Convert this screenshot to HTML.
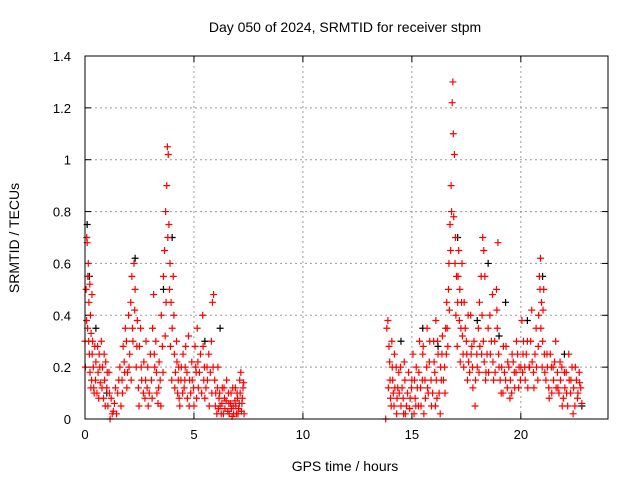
<!DOCTYPE html>
<html><head><meta charset="utf-8"><style>
body{margin:0;background:#fff}
svg{display:block;font-family:"Liberation Sans",sans-serif}
</style></head><body>
<svg id="chart" width="640" height="480" xmlns="http://www.w3.org/2000/svg">
<rect width="640" height="480" fill="#fff"/>
<text x="345" y="32" font-size="14" text-anchor="middle">Day 050 of 2024, SRMTID for receiver stpm</text>
<text x="345" y="471" font-size="14" text-anchor="middle">GPS time / hours</text>
<text transform="translate(19,238) rotate(-90)" font-size="14" text-anchor="middle">SRMTID / TECUs</text>
<g id="grid"></g><g id="ticks"></g><g id="marks"></g>
<rect x="85" y="56" width="523" height="363" fill="none" stroke="#000" stroke-width="1"/>
</svg>
<script>
const xTicks=[0,5,10,15,20];
const yTicks=[0,0.2,0.4,0.6,0.8,1,1.2,1.4];
const yTickLabels=["0","0.2","0.4","0.6","0.8","1","1.2","1.4"];
const redTimes=[0,0.05,0.08,0.1,0.12,0.15,0.18,0.2,0.22,0.25,0.28,0.3,0.32,0.35,0.38,0.4,0.45,0.5,0.55,0.6,0.65,0.7,0.75,0.8,0.85,0.9,0.95,1.0,1.05,1.1,1.15,1.2,1.3,1.4,1.5,1.6,1.7,1.75,1.8,1.85,1.9,1.95,2.0,2.05,2.1,2.15,2.2,2.25,2.3,2.35,2.4,2.45,2.5,2.55,2.6,2.7,2.75,2.8,2.85,2.9,3.0,3.05,3.1,3.15,3.2,3.25,3.3,3.35,3.4,3.45,3.5,3.55,3.6,3.65,3.7,3.75,3.78,3.82,3.85,3.9,3.95,4.0,4.05,4.1,4.15,4.2,4.25,4.3,4.35,4.4,4.5,4.55,4.6,4.7,4.75,4.8,4.9,5.0,5.05,5.1,5.15,5.2,5.3,5.4,5.45,5.5,5.6,5.7,5.8,5.85,5.9,5.95,6.0,6.05,6.1,6.15,6.2,6.3,6.35,6.4,6.5,6.55,6.6,6.7,6.75,6.8,6.9,6.95,7.0,7.05,7.1,7.15,7.2,7.25,7.3,
13.8,13.9,13.95,14.0,14.05,14.1,14.15,14.2,14.3,14.35,14.4,14.5,14.6,14.65,14.7,14.8,14.9,15.0,15.1,15.15,15.2,15.3,15.35,15.4,15.5,15.55,15.6,15.7,15.75,15.8,15.9,16.0,16.05,16.1,16.15,16.2,16.3,16.35,16.4,16.5,16.55,16.6,16.65,16.7,16.75,16.8,16.85,16.88,16.9,16.95,17.0,17.05,17.1,17.15,17.2,17.25,17.3,17.35,17.4,17.5,17.55,17.6,17.7,17.75,17.8,17.9,18.0,18.05,18.1,18.2,18.25,18.3,18.35,18.4,18.5,18.6,18.7,18.75,18.8,18.9,18.95,19.0,19.1,19.2,19.3,19.4,19.5,19.6,19.7,19.8,19.9,20.0,20.05,20.1,20.2,20.3,20.4,20.5,20.6,20.7,20.8,20.85,20.9,20.95,21.0,21.05,21.1,21.2,21.3,21.4,21.5,21.6,21.7,21.8,21.9,22.0,22.1,22.2,22.3,22.4,22.5,22.6,22.7,22.8];
const redValues=[0.3,0.5,0.7,0.68,0.35,0.6,0.45,0.25,0.52,0.4,0.33,0.15,0.48,0.3,0.2,0.12,0.28,0.22,0.1,0.18,0.25,0.14,0.3,0.2,0.08,0.15,0.22,0.12,0.05,0.18,0.0,0.08,0.03,0.12,0.1,0.2,0.15,0.28,0.22,0.35,0.3,0.18,0.4,0.25,0.45,0.55,0.3,0.6,0.5,0.2,0.38,0.12,0.28,0.35,0.15,0.22,0.08,0.3,0.12,0.05,0.25,0.15,0.35,0.48,0.2,0.3,0.1,0.06,0.22,0.15,0.4,0.28,0.55,0.65,0.8,0.9,1.05,1.02,0.75,0.6,0.45,0.35,0.55,0.25,0.18,0.3,0.1,0.2,0.05,0.15,0.25,0.12,0.2,0.08,0.32,0.15,0.22,0.05,0.28,0.18,0.35,0.12,0.25,0.4,0.15,0.08,0.2,0.05,0.3,0.45,0.48,0.15,0.1,0.02,0.2,0.08,0.05,0.12,0.02,0.08,0.15,0.03,0.06,0.1,0.01,0.05,0.12,0.02,0.08,0.04,0.15,0.18,0.06,0.12,0.02,
0.0,0.38,0.28,0.15,0.05,0.2,0.1,0.25,0.02,0.12,0.18,0.05,0.08,0.22,0.02,0.1,0.04,0.15,0.02,0.08,0.2,0.05,0.3,0.12,0.25,0.02,0.15,0.35,0.1,0.22,0.05,0.3,0.18,0.38,0.08,0.25,0.02,0.15,0.32,0.2,0.35,0.45,0.28,0.6,0.75,0.9,1.22,1.3,1.1,1.02,0.7,0.55,0.45,0.65,0.5,0.35,0.6,0.25,0.45,0.3,0.15,0.22,0.4,0.28,0.12,0.05,0.2,0.35,0.45,0.25,0.7,0.65,0.55,0.18,0.35,0.25,0.48,0.15,0.3,0.42,0.68,0.2,0.1,0.28,0.15,0.22,0.08,0.25,0.18,0.3,0.12,0.2,0.38,0.25,0.15,0.3,0.2,0.42,0.12,0.35,0.28,0.55,0.62,0.45,0.3,0.5,0.18,0.25,0.08,0.2,0.15,0.3,0.12,0.22,0.05,0.18,0.1,0.25,0.15,0.02,0.2,0.08,0.14,0.06];
const redTimesB=[0.02,0.07,0.13,0.17,0.23,0.27,0.33,0.42,0.48,0.58,0.63,0.68,0.78,0.88,0.93,1.02,1.12,1.25,1.35,1.45,1.55,1.65,1.72,1.82,1.92,2.02,2.12,2.18,2.28,2.38,2.48,2.58,2.68,2.78,2.88,2.95,3.08,3.18,3.28,3.38,3.48,3.58,3.68,3.72,3.8,3.88,3.92,3.98,4.08,4.12,4.22,4.28,4.32,4.42,4.48,4.58,4.62,4.68,4.78,4.85,4.92,4.98,5.08,5.12,5.18,5.25,5.35,5.42,5.48,5.55,5.62,5.68,5.75,5.82,5.88,5.98,6.08,6.12,6.18,6.25,6.28,6.38,6.42,6.48,6.58,6.62,6.68,6.72,6.78,6.82,6.88,6.92,6.98,7.02,7.08,7.12,7.18,7.22,7.28,
13.85,13.92,13.98,14.02,14.08,14.12,14.18,14.22,14.28,14.32,14.42,14.48,14.55,14.62,14.68,14.75,14.85,14.92,14.98,15.05,15.12,15.18,15.25,15.32,15.42,15.48,15.52,15.62,15.68,15.72,15.82,15.88,15.95,16.02,16.08,16.12,16.18,16.25,16.32,16.38,16.45,16.52,16.58,16.62,16.68,16.72,16.78,16.82,16.92,16.98,17.02,17.08,17.12,17.18,17.22,17.28,17.32,17.38,17.45,17.52,17.58,17.65,17.72,17.78,17.85,17.92,17.98,18.08,18.12,18.18,18.22,18.28,18.32,18.38,18.45,18.52,18.58,18.65,18.72,18.82,18.88,18.92,18.98,19.05,19.12,19.18,19.25,19.32,19.38,19.45,19.52,19.58,19.65,19.72,19.78,19.85,19.92,19.98,20.08,20.12,20.18,20.25,20.32,20.38,20.45,20.52,20.58,20.65,20.72,20.78,20.82,20.88,20.92,20.98,21.02,21.08,21.15,21.22,21.28,21.35,21.42,21.48,21.55,21.62,21.68,21.75,21.82,21.88,21.95,22.02,22.08,22.15,22.22,22.28,22.35,22.42,22.48,22.55,22.62,22.68,22.75];
const redValuesB=[0.2,0.38,0.55,0.3,0.18,0.12,0.25,0.1,0.15,0.28,0.08,0.2,0.12,0.25,0.05,0.18,0.1,0.02,0.06,0.02,0.15,0.05,0.1,0.18,0.12,0.2,0.15,0.35,0.42,0.28,0.05,0.2,0.1,0.15,0.2,0.1,0.08,0.25,0.18,0.12,0.05,0.18,0.32,0.45,0.7,0.5,0.28,0.15,0.4,0.12,0.22,0.15,0.08,0.2,0.1,0.15,0.28,0.18,0.05,0.1,0.15,0.12,0.2,0.08,0.22,0.18,0.1,0.28,0.2,0.12,0.15,0.25,0.18,0.1,0.2,0.05,0.12,0.04,0.1,0.02,0.06,0.12,0.04,0.07,0.1,0.02,0.06,0.04,0.12,0.02,0.07,0.05,0.1,0.02,0.06,0.1,0.03,0.08,0.14,
0.35,0.12,0.22,0.08,0.3,0.15,0.05,0.12,0.2,0.08,0.1,0.2,0.12,0.02,0.15,0.05,0.18,0.08,0.12,0.25,0.15,0.05,0.12,0.18,0.05,0.15,0.28,0.08,0.2,0.12,0.3,0.15,0.1,0.22,0.05,0.15,0.3,0.1,0.2,0.25,0.15,0.1,0.25,0.35,0.5,0.42,0.65,0.8,0.78,0.6,0.4,0.28,0.55,0.38,0.22,0.45,0.32,0.2,0.35,0.25,0.4,0.18,0.25,0.2,0.3,0.15,0.25,0.18,0.28,0.55,0.4,0.3,0.22,0.15,0.25,0.18,0.4,0.3,0.22,0.18,0.5,0.35,0.25,0.15,0.2,0.1,0.18,0.28,0.12,0.2,0.15,0.1,0.22,0.12,0.18,0.25,0.2,0.15,0.18,0.3,0.2,0.25,0.12,0.2,0.3,0.22,0.18,0.25,0.2,0.15,0.4,0.5,0.35,0.2,0.42,0.25,0.15,0.2,0.12,0.25,0.1,0.2,0.22,0.12,0.18,0.1,0.15,0.2,0.08,0.12,0.18,0.05,0.15,0.1,0.2,0.12,0.05,0.15,0.1,0.18,0.12];
const blackTimes=[0.1,0.2,0.5,1.0,2.3,3.6,4.0,5.5,6.2,14.5,15.5,16.2,17.1,18.0,18.5,19.0,19.3,20.3,21.0,22.0,22.8];
const blackValues=[0.75,0.55,0.35,0.1,0.62,0.5,0.7,0.3,0.35,0.3,0.35,0.28,0.7,0.38,0.6,0.32,0.45,0.38,0.55,0.25,0.05];
const NS="http://www.w3.org/2000/svg";
const X0=85,X1=608,Y0=419,Y1=56,XMAX=24,YMAX=1.4;
function xs(v){return X0+(X1-X0)*v/XMAX;}
function ys(v){return Y0-(Y0-Y1)*v/YMAX;}
function mk(tag,at,parent){const e=document.createElementNS(NS,tag);for(const k in at)e.setAttribute(k,at[k]);parent.appendChild(e);return e;}
const grid=document.getElementById('grid'),ticks=document.getElementById('ticks'),marks=document.getElementById('marks');
xTicks.forEach(t=>{const x=xs(t);
 if(t>0){const g=mk('line',{x1:x,x2:x,y1:Y1,y2:Y0,stroke:'#999','stroke-dasharray':'2,3'},grid);
 
 }
 mk('line',{x1:x,x2:x,y1:Y0,y2:Y0-6,stroke:'#000'},ticks);mk('line',{x1:x,x2:x,y1:Y1,y2:Y1+6,stroke:'#000'},ticks);
 const l=mk('text',{x:x,y:Y0+20,'font-size':13,'text-anchor':'middle'},ticks);l.textContent=t;
 
 });
yTicks.forEach((t,i)=>{const y=ys(t);
 if(t>0&&t<YMAX){const g=mk('line',{x1:X0,x2:X1,y1:y,y2:y,stroke:'#999','stroke-dasharray':'2,3'},grid);
 
 }
 mk('line',{x1:X0,x2:X0+6,y1:y,y2:y,stroke:'#000'},ticks);mk('line',{x1:X1,x2:X1-6,y1:y,y2:y,stroke:'#000'},ticks);
 const l=mk('text',{x:X0-14,y:y+5,'font-size':13,'text-anchor':'end'},ticks);l.textContent=yTickLabels[i];
 
 });
function plus(t,v,c,name){const x=xs(t),y=ys(v);
 const p=mk('path',{d:`M${x-3.5},${y}h7M${x},${y-3.5}v7`,stroke:c,'stroke-width':1.2,fill:'none'},marks);
 
 }
blackTimes.forEach((t,i)=>plus(t,blackValues[i],'#000','black-point'));
redTimes.forEach((t,i)=>plus(t,redValues[i],'#f00','red-point'));
redTimesB.forEach((t,i)=>plus(t,redValuesB[i],'#f00','red-point'));
</script>
</body></html>
